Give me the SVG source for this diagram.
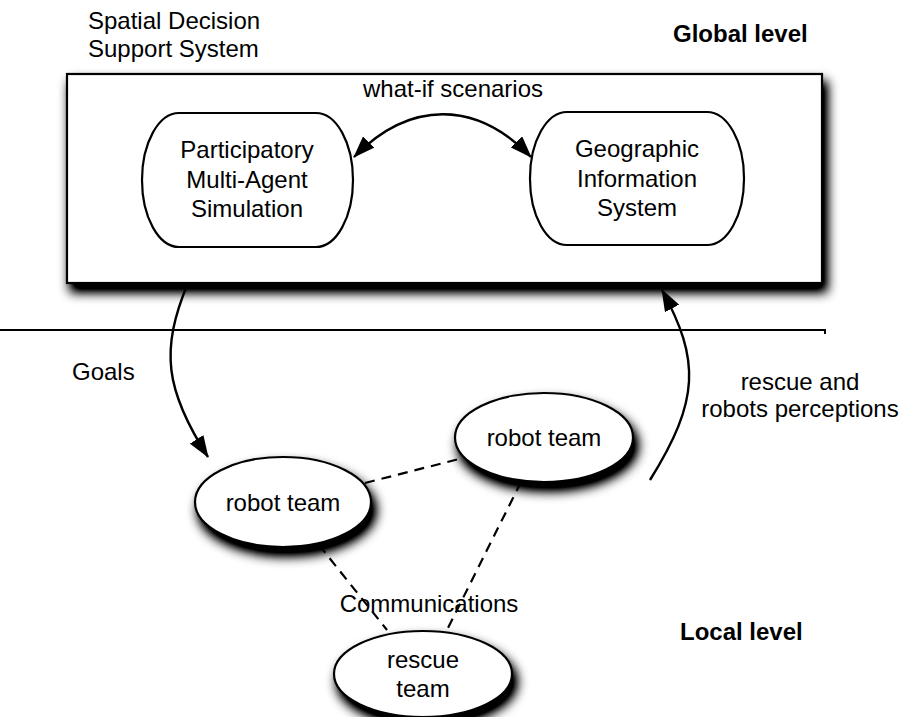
<svg xmlns="http://www.w3.org/2000/svg" width="900" height="717" viewBox="0 0 900 717">
  <style>
    text { font-family: "Liberation Sans", Arial, Helvetica, sans-serif; font-size: 24px; fill: #000; }
    .bold { font-weight: bold; }
    .mid { text-anchor: middle; }
    .shape { fill: #fff; stroke: #000; stroke-width: 2.2; }
    .edge { fill: none; stroke: #000; stroke-width: 2.4; }
    .dash { fill: none; stroke: #000; stroke-width: 2.2; stroke-dasharray: 10 7; }
  </style>
  <defs>
    <filter id="shadow" x="-25%" y="-25%" width="160%" height="190%">
      <feGaussianBlur in="SourceAlpha" stdDeviation="6"/>
      <feOffset dx="4" dy="8"/>
      <feComponentTransfer><feFuncA type="linear" slope="1.4"/></feComponentTransfer>
      <feMerge><feMergeNode/><feMergeNode in="SourceGraphic"/></feMerge>
    </filter>
    <marker id="arrow" viewBox="0 0 22 16" refX="21" refY="8" markerWidth="22" markerHeight="16" markerUnits="userSpaceOnUse" orient="auto-start-reverse">
      <path d="M0,0 L22,8 L0,16 z" fill="#000"/>
    </marker>
  </defs>

  <rect width="900" height="717" fill="#fff"/>

  <!-- Global level: decision support system container -->
  <g id="dss">
    <rect class="shape" x="67" y="74" width="755" height="209" filter="url(#shadow)"/>
    <text x="88" y="29">Spatial Decision</text>
    <text x="88" y="57">Support System</text>
  </g>
  <text id="global-level" class="bold" x="673" y="42">Global level</text>

  <g id="pmas">
    <rect class="shape" x="142" y="113" width="211" height="134" rx="37" ry="67"/>
    <text class="mid" x="247" y="158">Participatory</text>
    <text class="mid" x="247" y="188">Multi-Agent</text>
    <text class="mid" x="247" y="217">Simulation</text>
  </g>

  <g id="gis">
    <rect class="shape" x="530" y="112" width="214" height="133" rx="37" ry="66"/>
    <text class="mid" x="637" y="157">Geographic</text>
    <text class="mid" x="637" y="187">Information</text>
    <text class="mid" x="637" y="216">System</text>
  </g>

  <!-- separator between levels -->
  <path id="separator" d="M0,330 H825 V334" fill="none" stroke="#000" stroke-width="2"/>

  <!-- Local level: teams -->
  <g id="robot-team-right">
    <ellipse class="shape" cx="544" cy="437.5" rx="89" ry="44.5" filter="url(#shadow)"/>
    <text class="mid" x="544" y="446">robot team</text>
  </g>
  <g id="robot-team-left">
    <ellipse class="shape" cx="283" cy="502" rx="88" ry="45" filter="url(#shadow)"/>
    <text class="mid" x="283" y="511">robot team</text>
  </g>
  <g id="rescue-team">
    <ellipse class="shape" cx="423" cy="674" rx="89" ry="43" filter="url(#shadow)"/>
    <text class="mid" x="423" y="668">rescue</text>
    <text class="mid" x="423" y="697">team</text>
  </g>
  <text id="local-level" class="bold" x="680" y="640">Local level</text>

  <!-- connectors -->
  <g id="connectors">
    <path class="edge" d="M354,157 C410,100 476,100 531,157" marker-start="url(#arrow)" marker-end="url(#arrow)"/>
    <text class="mid" x="453" y="97">what-if scenarios</text>

    <path class="edge" d="M188,283 C160,350 165,390 208,457" marker-end="url(#arrow)"/>
    <text x="72" y="380">Goals</text>

    <path class="edge" d="M650,480 C700,400 700,360 662,290" marker-end="url(#arrow)"/>
    <text class="mid" x="800" y="390">rescue and</text>
    <text class="mid" x="800" y="417">robots perceptions</text>

    <line class="dash" x1="365" y1="483" x2="463" y2="458"/>
    <line class="dash" x1="521" y1="482" x2="447" y2="630"/>
    <line class="dash" x1="319" y1="545" x2="387" y2="630"/>
    <text class="mid" x="429" y="612">Communications</text>
  </g>
</svg>
